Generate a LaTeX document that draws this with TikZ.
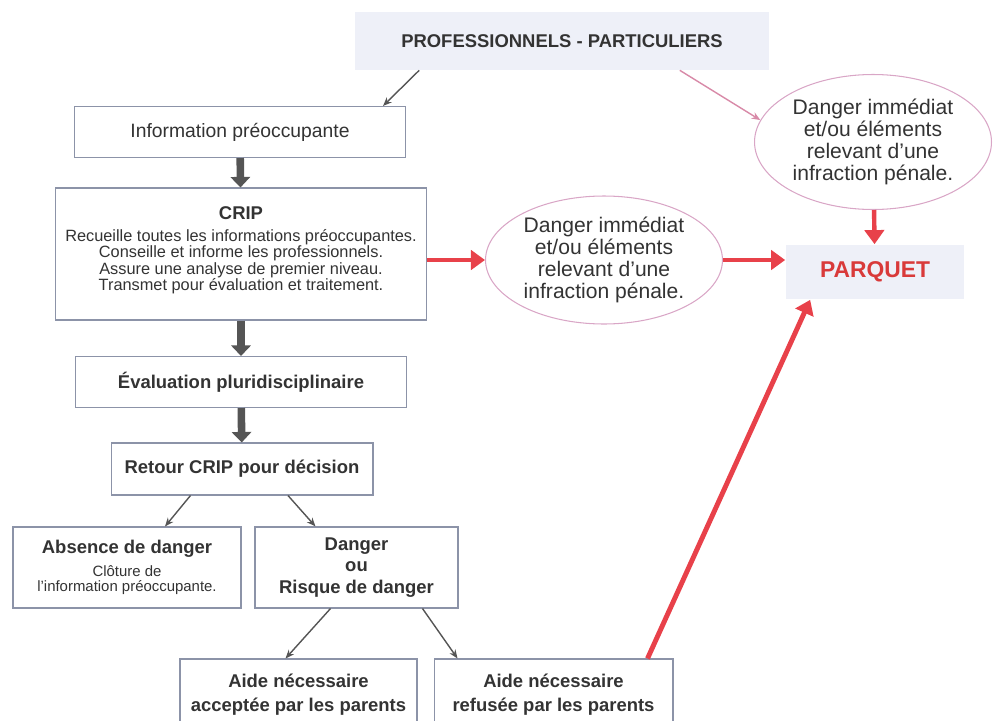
\documentclass[tikz,border=0pt]{standalone}
\usepackage{fontspec}
\setmainfont{Liberation Sans}
\usetikzlibrary{shapes,arrows.meta}

\definecolor{txtgray}{HTML}{333333}
\definecolor{boxline}{HTML}{8C93A8}
\definecolor{paleblue}{HTML}{EEF0F8}
\definecolor{redline}{HTML}{E8414A}
\definecolor{pinkline}{HTML}{D9A6C6}
\definecolor{pinkarrow}{HTML}{D88AA8}
\definecolor{arrowgray}{HTML}{555555}
\definecolor{parquetred}{HTML}{D93A3A}

\begin{document}
\begin{tikzpicture}[x=0.02cm,y=-0.02cm]
\tikzstyle{every node}=[text=txtgray,align=center,inner sep=0pt]
\tikzstyle{pbox}=[rectangle,draw=boxline,line width=0.6pt,fill=white]
\tikzstyle{bubble}=[ellipse,draw=pinkline,line width=0.6pt,font=\fontsize{12}{12.5}\selectfont]
\tikzstyle{bold}=[font=\fontsize{10.5}{12.3}\selectfont\bfseries]
\tikzstyle{heavy}=[-{Triangle[width=11pt,length=6pt]},line width=4.3pt,draw=arrowgray]
\tikzstyle{slim}=[-{Stealth[length=5pt,width=4pt]},line width=0.8pt,draw=arrowgray]
\tikzstyle{redarrow}=[-{Triangle[width=11pt,length=8pt]},line width=2.5pt,draw=redline]
\useasboundingbox (0,0) rectangle (993,720);

% top and left column
\node[fill=paleblue,minimum width=8.3cm,minimum height=1.16cm,bold] (prof) at (562,41) {PROFESSIONNELS - PARTICULIERS};
\node[pbox,minimum width=6.62cm,minimum height=1.02cm,font=\fontsize{11}{13}\selectfont] (info) at (240,132) {Information préoccupante};
\node[pbox,minimum width=7.44cm,minimum height=2.64cm,font=\fontsize{9.3}{9.3}\selectfont] (crip) at (241,254)
  {\textbf{\fontsize{10.5}{11}\selectfont CRIP}\\[3.5pt]
   Recueille toutes les informations préoccupantes.\\
   Conseille et informe les professionnels.\\
   Assure une analyse de premier niveau.\\
   Transmet pour évaluation et traitement.\\[-3pt]\mbox{}};
\node[pbox,bold,minimum width=6.62cm,minimum height=1.02cm] (eval) at (241,382) {Évaluation pluridisciplinaire};
\node[pbox,bold,minimum width=5.24cm,minimum height=1.04cm] (retour) at (242,469) {Retour CRIP pour décision};

% decision
\node[pbox,minimum width=4.56cm,minimum height=1.62cm,font=\fontsize{8.5}{9}\selectfont] (absence) at (127,567.5)
  {\textbf{\fontsize{10.5}{11}\selectfont Absence de danger}\\[4pt]
   Clôture de\\l'information préoccupante.};
\node[pbox,bold,minimum width=4.06cm,minimum height=1.62cm] (danger) at (356.5,567.5) {Danger\\ou\\Risque de danger};
\node[pbox,font=\fontsize{10.5}{13.6}\selectfont\bfseries,minimum width=4.74cm,minimum height=1.44cm] (accept) at (298.5,695) {Aide nécessaire\\acceptée par les parents};
\node[pbox,font=\fontsize{10.5}{13.6}\selectfont\bfseries,minimum width=4.78cm,minimum height=1.44cm] (refuse) at (553.5,695) {Aide nécessaire\\refusée par les parents};

% right side
\node[bubble,minimum width=4.74cm,minimum height=2.56cm] (imm1) at (604,260) {Danger immédiat\\et/ou éléments\\relevant d'une\\infraction pénale.};
\node[bubble,minimum width=4.74cm,minimum height=2.7cm] (imm2) at (873,142) {Danger immédiat\\et/ou éléments\\relevant d'une\\infraction pénale.};
\node[fill=paleblue,minimum width=3.58cm,minimum height=1.1cm,text=parquetred,font=\fontsize{13}{15}\selectfont\bfseries] (parquet) at (875,272) {PARQUET};

\draw[slim] ([xshift=1.3cm]prof.south west) -- ([xshift=-0.46cm]info.north east);
\draw[slim,draw=pinkarrow] ([xshift=-1.8cm]prof.south east) -- (imm2.169);
\draw[heavy] (info) -- (crip);
\draw[heavy] (crip) -- (eval);
\draw[heavy] (eval) -- (retour);
\draw[slim] ([xshift=1.6cm]retour.south west) -- ([xshift=0.76cm]absence.north);
\draw[slim] ([xshift=0.92cm]retour.south) -- ([xshift=-0.82cm]danger.north);
\draw[slim] ([xshift=-0.52cm]danger.south) -- ([xshift=-0.26cm]accept.north);
\draw[slim] ([xshift=1.32cm]danger.south) -- ([xshift=-1.92cm]refuse.north);

\draw[redarrow] (crip.east |- imm1) -- (imm1.west);
\draw[redarrow] (imm1.east) -- (imm1.east -| parquet.west);
\draw[redarrow] (imm2) -- (parquet);
\draw[redarrow,line width=2.8pt] ([xshift=-0.52cm]refuse.north east) -- ([xshift=0.5cm]parquet.south west);
\end{tikzpicture}
\end{document}
